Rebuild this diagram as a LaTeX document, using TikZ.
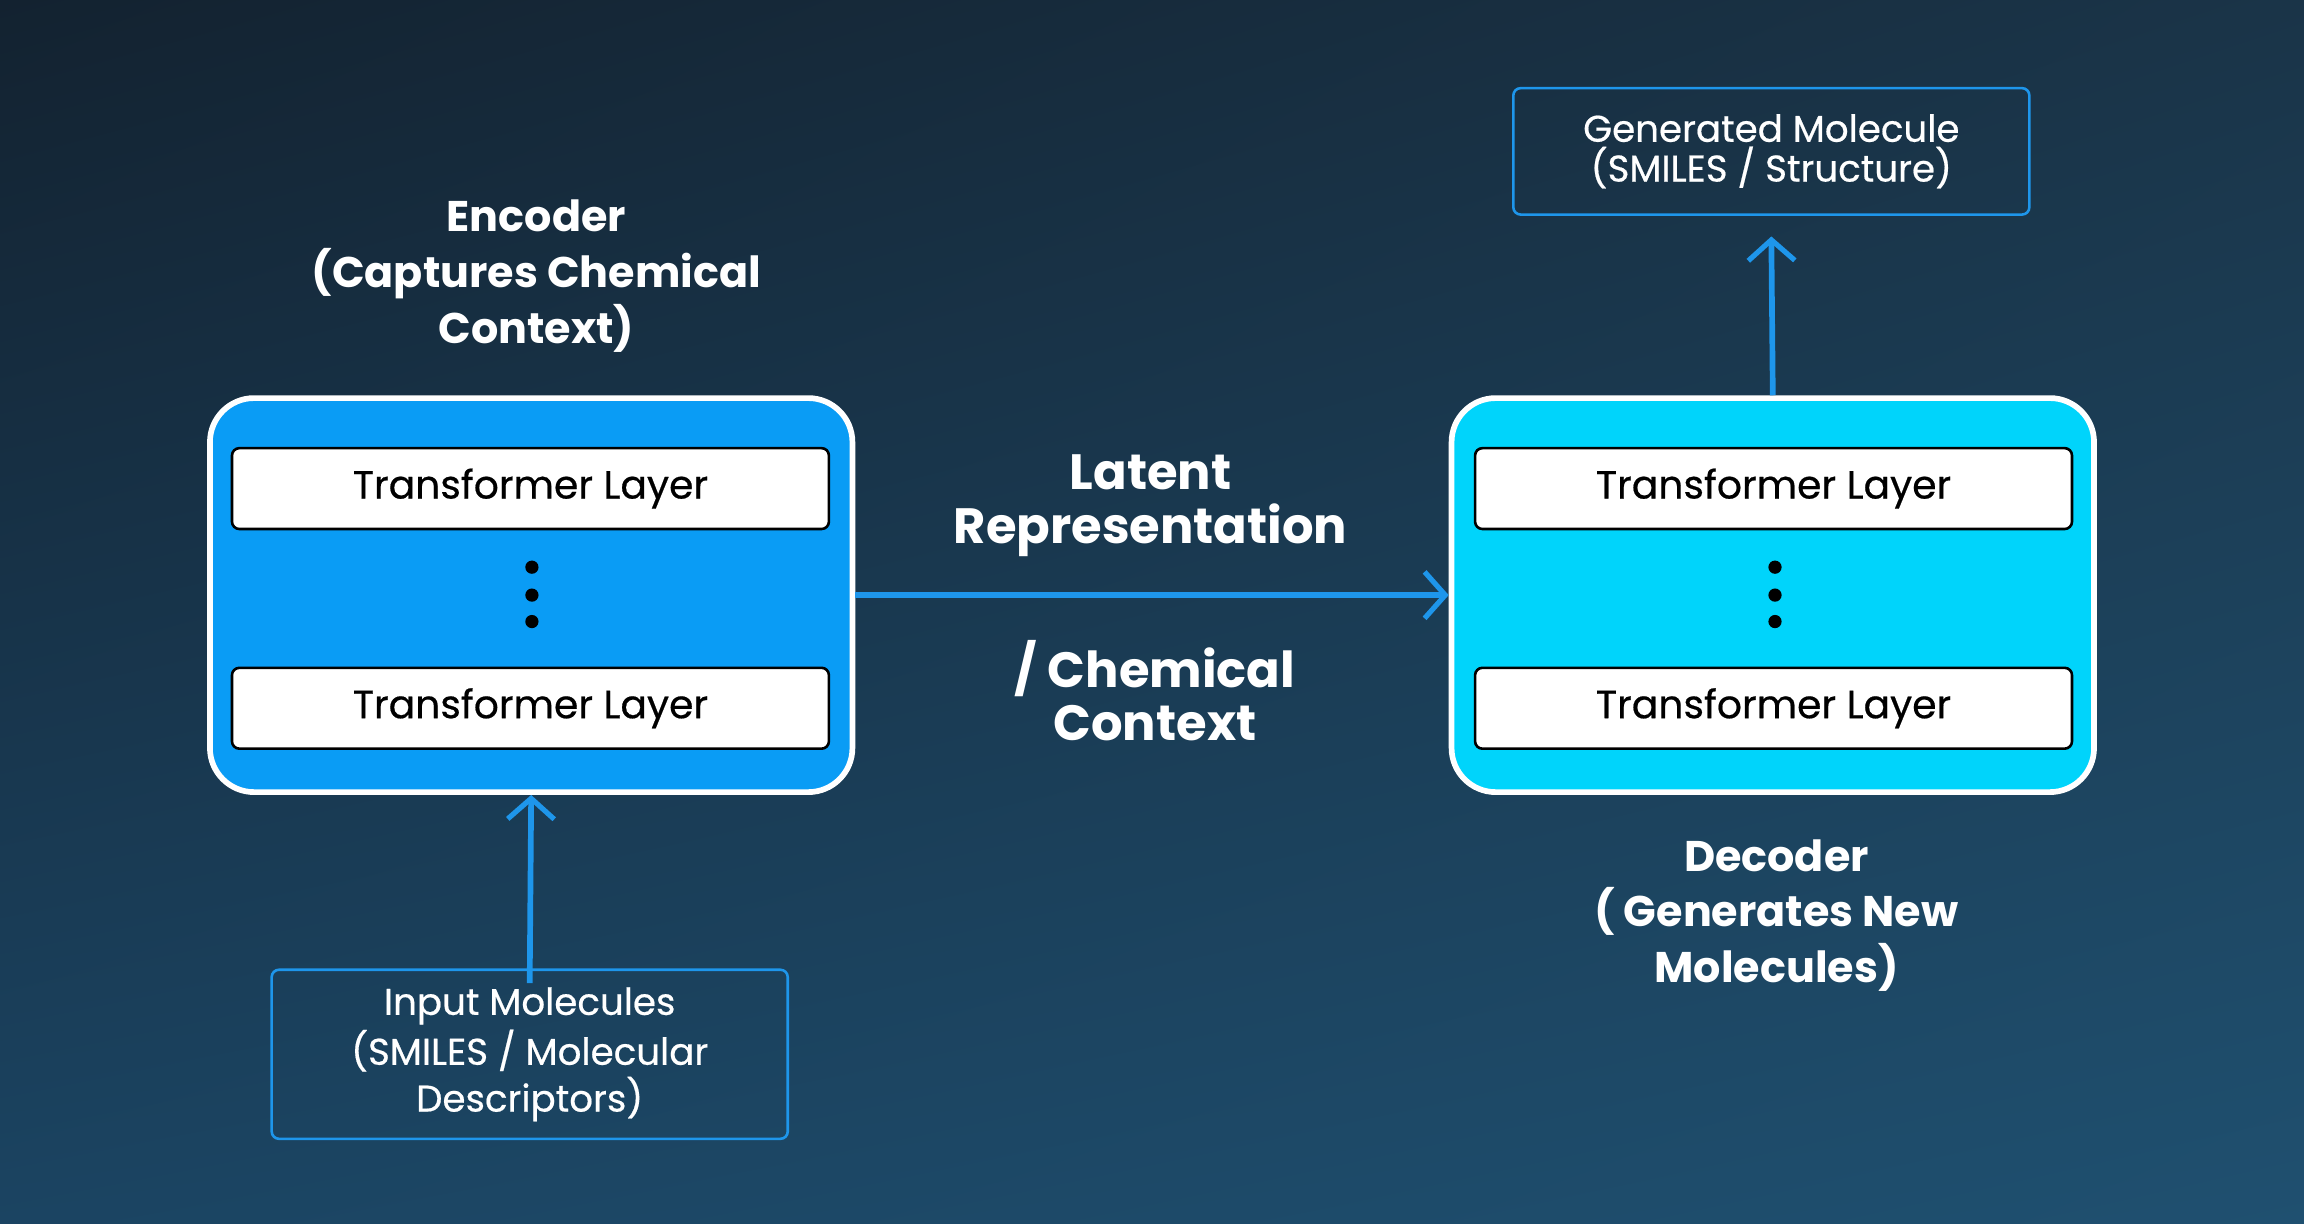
\documentclass[tikz,border=0pt]{standalone}
\usepackage{fontspec}
\setmainfont{Poppins}
\newfontfamily\popmed[FakeBold=0.5]{Poppins}
\usetikzlibrary{shadings,arrows.meta}
\begin{document}
\begin{tikzpicture}[x=0.01cm,y=-0.01cm,
  bigbox/.style={draw=white,line width=1.1pt,rounded corners=0.3cm},
  layer/.style={draw=black,fill=white,line width=0.5pt,rounded corners=0.05cm,minimum width=4.06cm,minimum height=0.55cm,font=\popmed\fontsize{7.6}{8}\selectfont},
  io/.style={draw={rgb,255:red,30;green,150;blue,235},line width=0.5pt,rounded corners=0.05cm,text=white,align=center,font=\popmed\fontsize{7.2}{7.7}\selectfont},
  lbl/.style={text=white,align=center,font=\fontsize{8.3}{10.8}\selectfont\bfseries},
  arr/.style={draw={rgb,255:red,30;green,150;blue,235},line width=1.1pt,->,>={Straight Barb[length=4pt,width=9pt,line width=1pt]}},
  dot/.style={circle,fill=black,inner sep=0pt,minimum size=0.09cm}]
\definecolor{bgA}{HTML}{132230}
\definecolor{bgB}{HTML}{1A3448}
\definecolor{bgC}{HTML}{1B4462}
\definecolor{bgD}{HTML}{1F5070}
\shade[upper left=bgA,upper right=bgB,lower left=bgC,lower right=bgD] (0,0) rectangle (1568,833);
\useasboundingbox (0,0) rectangle (1568,833);
% encoder
\node[bigbox,fill={rgb,255:red,10;green,156;blue,245},minimum width=4.37cm,minimum height=2.68cm] (enc) at (361.5,405) {};
\node[layer] (e1) at (361,332.5) {Transformer Layer};
\node[layer] (e2) at (361,482) {Transformer Layer};
\node[dot] (ed1) at (362,386) {};
\node[dot] (ed2) at (362,405) {};
\node[dot] (ed3) at (362,423) {};
% decoder
\node[bigbox,fill={rgb,255:red,0;green,212;blue,251},minimum width=4.37cm,minimum height=2.68cm] (dec) at (1206.5,405) {};
\node[layer] (d1) at (1207,332.5) {Transformer Layer};
\node[layer] (d2) at (1207,482) {Transformer Layer};
\node[dot] (dd1) at (1208,386) {};
\node[dot] (dd2) at (1208,405) {};
\node[dot] (dd3) at (1208,423) {};
% labels
\node[lbl] (encl) at (365,188) {Encoder\\(Captures Chemical\\Context)};
\node[lbl] (decl) at (1209,623) {Decoder\\( Generates New\\Molecules)};
\node[lbl,font=\fontsize{9.6}{10.4}\selectfont\bfseries] (lat) at (783,344) {Latent\\Representation};
\node[lbl,font=\fontsize{9.6}{10.4}\selectfont\bfseries] (chem) at (786,470) {/ Chemical\\Context};
% io boxes
\node[io,minimum width=3.51cm,minimum height=1.15cm] (in) at (360.5,717.5) {Input Molecules\\(SMILES / Molecular\\Descriptors)};
\node[io,minimum width=3.51cm,minimum height=0.86cm] (out) at (1205.5,103) {Generated Molecule\\(SMILES / Structure)};
% arrows
\draw[arr] (enc.east) -- (dec.west);
\draw[arr] ([yshift=-0.1cm]in.north) -- (enc.south);
\draw[arr] (dec.north) -- ([yshift=-0.14cm]out.south);
\end{tikzpicture}
\end{document}
